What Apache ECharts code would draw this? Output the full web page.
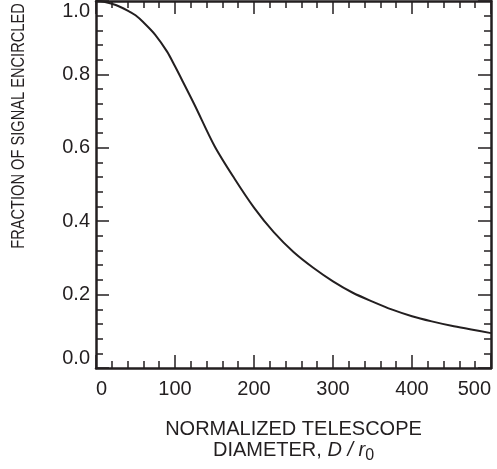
<!DOCTYPE html>
<html>
<head>
<meta charset="utf-8">
<script src="https://cdn.jsdelivr.net/npm/echarts@6/dist/echarts.min.js"></script>
<style>
  html, body { margin: 0; padding: 0; background: #fff; }
  #chart { width: 497px; height: 469px; }
</style>
</head>
<body>
<div id="chart"></div>
<script>
// normalized telescope diameter D/r0
const diameters = [0, 10, 25, 40, 50, 60, 75, 90, 100, 110, 125, 150, 175, 200, 225, 250, 275, 300, 325, 350, 375, 400, 425, 450, 475, 500]
// fraction of signal encircled
const fractions = [1.0, 0.998, 0.989, 0.974, 0.961, 0.942, 0.908, 0.862, 0.822, 0.780, 0.716, 0.605, 0.517, 0.437, 0.370, 0.316, 0.273, 0.236, 0.205, 0.181, 0.159, 0.141, 0.127, 0.115, 0.105, 0.095]

const ink = '#231f20'
const font = '"Liberation Sans", Arial, sans-serif'

let chart = echarts.init(document.getElementById('chart'))

function boxAxis(extra) {
  return Object.assign({
    type: 'value',
    axisLine: { show: true, onZero: false, lineStyle: { color: ink, width: 2.5 } },
    axisTick: { show: true, inside: true, length: 13, lineStyle: { color: ink, width: 1.5 } },
    minorTick: { show: true, splitNumber: 5, length: 7, lineStyle: { color: ink, width: 1.5 } },
    splitLine: { show: false },
    minorSplitLine: { show: false }
  }, extra)
}

let option = {
  animation: false,
  grid: { left: 96, right: 6, top: 1, bottom: 101 },
  xAxis: [
    boxAxis({
      position: 'bottom',
      min: 0, max: 500, interval: 100,
      name: 'NORMALIZED TELESCOPE\nDIAMETER, {i|D / r}{sub|0}',
      nameLocation: 'middle',
      nameGap: 51,
      nameTextStyle: {
        color: ink, fontSize: 20, fontFamily: font, lineHeight: 21,
        rich: {
          i: { fontStyle: 'italic', fontSize: 20, fontFamily: font, color: ink },
          sub: { fontSize: 16, fontFamily: font, color: ink, padding: [10, 0, 0, 0] }
        }
      },
      axisLabel: {
        color: ink, fontSize: 20, fontFamily: font, margin: 11,
        alignMinLabel: 'left', alignMaxLabel: 'right'
      }
    }),
    boxAxis({
      position: 'top',
      min: 0, max: 500, interval: 100,
      axisLabel: { show: false }
    })
  ],
  yAxis: [
    boxAxis({
      position: 'left',
      min: 0, max: 1, interval: 0.2,
      axisLabel: {
        color: ink, fontSize: 20, fontFamily: font, margin: 6,
        formatter: (v) => v.toFixed(1),
        verticalAlignMinLabel: 'bottom', verticalAlignMaxLabel: 'top'
      }
    }),
    boxAxis({
      position: 'right',
      min: 0, max: 1, interval: 0.2,
      axisLabel: { show: false }
    })
  ],
  graphic: [{
    type: 'text',
    x: 19,
    y: 126,
    rotation: Math.PI / 2,
    scaleX: 0.77,
    style: {
      text: 'FRACTION OF SIGNAL ENCIRCLED',
      fill: ink,
      font: '19px "Liberation Sans", Arial, sans-serif',
      align: 'center',
      verticalAlign: 'middle'
    }
  }],
  series: [{
    type: 'line',
    xAxisIndex: 0,
    yAxisIndex: 0,
    data: diameters.map((d, i) => [d, fractions[i]]),
    smooth: 0.3,
    showSymbol: false,
    lineStyle: { color: ink, width: 2 }
  }]
}

chart.setOption(option)
</script>
</body>
</html>
